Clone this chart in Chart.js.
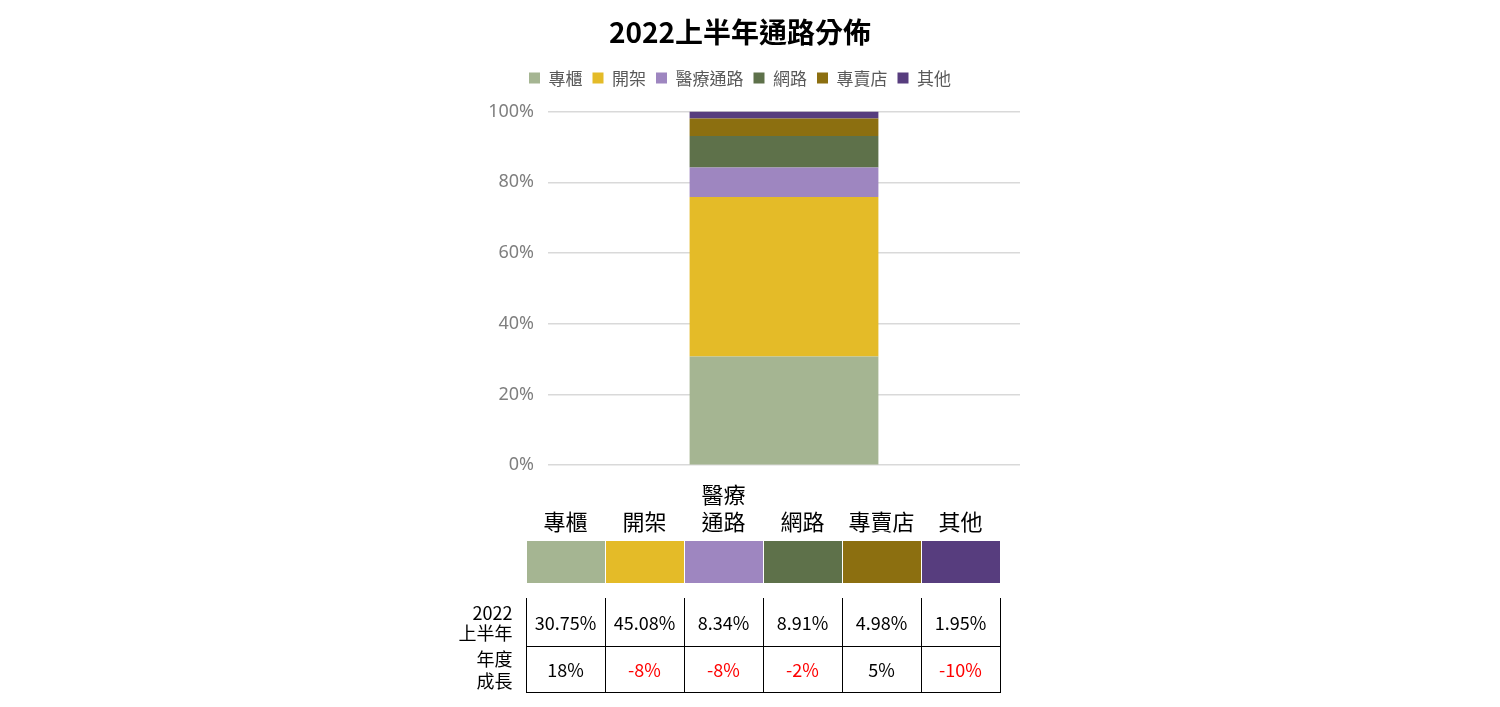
<!DOCTYPE html>
<html><head><meta charset="utf-8">
<script src="https://cdn.jsdelivr.net/npm/chart.js@4/dist/chart.umd.min.js"></script>
<style>
body{margin:0;width:1500px;height:707px;background:#fff;font-family:"Noto Sans CJK TC","Noto Sans",sans-serif;position:relative;overflow:hidden}
#wrap{position:absolute;left:460px;top:0;width:580px;height:490px}
table{position:absolute;border-collapse:collapse;font-size:18px;color:#000}
td{text-align:center;padding:0}
</style></head><body>
<div id="wrap"><canvas id="c"></canvas></div>
<div id="tbl"></div>
<script>
const categories = ['專櫃', '開架', '醫療通路', '網路', '專賣店', '其他'];
const headerLabels = ['專櫃', '開架', '醫療<br>通路', '網路', '專賣店', '其他'];
const shares = [30.75, 45.08, 8.34, 8.91, 4.98, 1.95];
const shareText = ['30.75%', '45.08%', '8.34%', '8.91%', '4.98%', '1.95%'];
const growth = ['18%', '-8%', '-8%', '-2%', '5%', '-10%'];
const colors = ['#A5B592', '#E4BB28', '#9E86C0', '#5E714A', '#8C6F10', '#573D7E'];
const yTicks = [0, 20, 40, 60, 80, 100];

// extra gap under the legend
const legendGap = {
  id: 'legendGap',
  beforeInit(chart) {
    const fit = chart.legend.fit;
    chart.legend.fit = function () { fit.bind(chart.legend)(); this.height += 15; };
  }
};

new Chart(document.getElementById('c'), {
  type: 'bar',
  data: {
    labels: ['2022上半年'],
    datasets: categories.map((name, i) => ({
      label: name, data: [shares[i]], backgroundColor: colors[i],
      categoryPercentage: 1, barPercentage: 0.4
    }))
  },
  options: {
    responsive: true, maintainAspectRatio: false, animation: false,
    layout: { padding: { right: 20, bottom: 6, top: 2 } },
    scales: {
      x: { stacked: true, display: false },
      y: {
        stacked: true, min: 0, max: 100,
        afterFit: s => { s.width = 88; },
        afterBuildTicks: s => { s.ticks = yTicks.map(v => ({ value: v })); },
        ticks: { color: '#7f7f7f', font: { size: 18, family: 'Noto Sans' }, padding: 14, callback: v => v + '%' },
        grid: { color: '#d9d9d9', lineWidth: 1.5, drawTicks: false },
        border: { display: false }
      }
    },
    plugins: {
      title: { display: true, text: '2022上半年通路分佈', color: '#000',
        font: { size: 28, weight: 'bold', family: '"Noto Sans CJK TC"' }, padding: { top: 14, bottom: 10 } },
      legend: { labels: { boxWidth: 11, boxHeight: 11, color: '#595959',
        font: { size: 17, family: '"Noto Sans CJK TC"' }, padding: 10 } },
      tooltip: { enabled: false }
    }
  },
  plugins: [legendGap]
});

// table under the chart
let h = '<table style="left:456px;top:476px">';
h += '<tr style="height:64px"><td style="width:70px"></td>' + headerLabels.map(t => '<td style="width:79px;font-size:22px;line-height:27px;vertical-align:bottom;padding-bottom:6px">' + t + '</td>').join('') + '</tr>';
h += '<tr style="height:44px"><td></td>' + colors.map(c => '<td style="border-left:1px solid #fff;border-right:1px solid #fff"><div style="height:42px;background:' + c + '"></div></td>').join('') + '</tr>';
h += '<tr style="height:14px"><td colspan="7"></td></tr>';
h += '<tr style="height:48px"><td style="text-align:right;padding-right:13px;line-height:20px">2022<br>上半年</td>' + shareText.map(t => '<td style="border:1.5px solid #000;border-top:none">' + t + '</td>').join('') + '</tr>';
h += '<tr style="height:46px"><td style="text-align:right;padding-right:13px;line-height:22px">年度<br>成長</td>' + growth.map(t => '<td style="border:1.5px solid #000;color:' + (t[0] === '-' ? '#ff0000' : '#000') + '">' + t + '</td>').join('') + '</tr>';
h += '</table>';
document.getElementById('tbl').innerHTML = h;
</script>
</body></html>
